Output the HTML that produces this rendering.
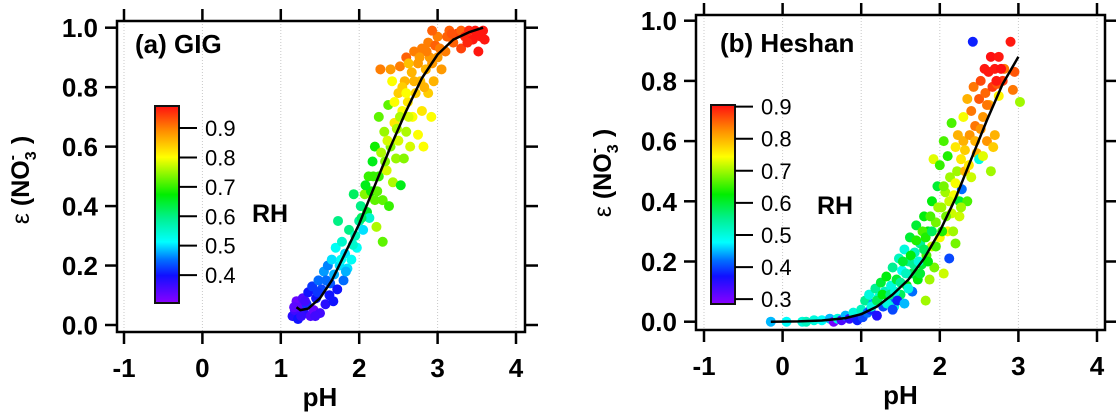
<!DOCTYPE html>
<html><head><meta charset="utf-8">
<style>
html,body{margin:0;padding:0;background:#fff;}
svg{display:block;font-family:"Liberation Sans",sans-serif;}
</style></head>
<body>
<svg id="chart" width="1116" height="414" viewBox="0 0 1116 414" xmlns="http://www.w3.org/2000/svg">
<defs>
<linearGradient id="rb" x1="0" y1="1" x2="0" y2="0">
<stop offset="0" stop-color="#8a00ff"/>
<stop offset="0.14" stop-color="#1010ff"/>
<stop offset="0.22" stop-color="#0070ff"/>
<stop offset="0.31" stop-color="#00ffff"/>
<stop offset="0.43" stop-color="#00f090"/>
<stop offset="0.55" stop-color="#00ee00"/>
<stop offset="0.74" stop-color="#ffff00"/>
<stop offset="0.87" stop-color="#ff9000"/>
<stop offset="1" stop-color="#ff1010"/>
</linearGradient>
</defs>
</svg>
<script>
const xTicks=[-1,0,1,2,3,4];
const yTicks=[0,0.2,0.4,0.6,0.8,1.0];
const yTickLabels=["0.0","0.2","0.4","0.6","0.8","1.0"];
const gigCbTicks=[0.4,0.5,0.6,0.7,0.8,0.9];
const hsCbTicks=[0.3,0.4,0.5,0.6,0.7,0.8,0.9];
const gigPts=[
[1.15,0.03,0.38],[1.18,0.05,0.36],[1.2,0.08,0.33],[1.22,0.02,0.4],[1.25,0.06,0.34],[1.28,0.09,0.35],[1.3,0.04,0.38],[1.33,0.07,0.42],[1.35,0.11,0.4],[1.38,0.03,0.35],[1.4,0.13,0.42],[1.42,0.05,0.33],[1.45,0.09,0.4],[1.48,0.15,0.45],[1.5,0.04,0.36],[1.52,0.12,0.43],[1.55,0.18,0.47],[1.57,0.07,0.38],[1.6,0.2,0.46],[1.62,0.1,0.4],[1.63,0.14,0.44],[1.65,0.22,0.5],[1.68,0.17,0.48],[1.7,0.26,0.52],[1.72,0.12,0.4],[1.73,0.35,0.6],[1.75,0.2,0.5],[1.78,0.28,0.55],[1.8,0.15,0.45],[1.82,0.24,0.5],[1.85,0.19,0.5],[1.87,0.32,0.6],[1.9,0.22,0.52],[1.93,0.44,0.62],[1.95,0.3,0.56],[1.97,0.26,0.52],[2.0,0.35,0.58],[2.02,0.4,0.6],[2.05,0.32,0.5],[2.07,0.44,0.74],[2.1,0.38,0.65],[2.12,0.5,0.7],[2.13,0.36,0.55],[2.15,0.45,0.68],[2.17,0.55,0.66],[2.2,0.42,0.72],[2.2,0.6,0.68],[2.22,0.33,0.76],[2.25,0.5,0.7],[2.25,0.7,0.72],[2.27,0.86,0.9],[2.28,0.58,0.76],[2.3,0.42,0.72],[2.3,0.28,0.72],[2.32,0.65,0.75],[2.35,0.52,0.78],[2.37,0.74,0.72],[2.38,0.4,0.7],[2.4,0.6,0.74],[2.42,0.82,0.8],[2.43,0.48,0.76],[2.45,0.68,0.82],[2.47,0.56,0.75],[2.5,0.78,0.84],[2.5,0.62,0.78],[2.52,0.87,0.9],[2.53,0.47,0.66],[2.55,0.72,0.8],[2.57,0.56,0.74],[2.58,0.82,0.86],[2.6,0.65,0.76],[2.6,0.9,0.92],[2.62,0.75,0.82],[2.65,0.6,0.78],[2.67,0.85,0.86],[2.68,0.7,0.8],[2.7,0.92,0.9],[2.72,0.78,0.84],[2.75,0.64,0.8],[2.75,0.88,0.88],[2.78,0.82,0.85],[2.8,0.93,0.9],[2.8,0.72,0.82],[2.82,0.6,0.8],[2.85,0.86,0.86],[2.88,0.78,0.84],[2.88,0.95,0.9],[2.9,0.9,0.88],[2.92,0.7,0.8],[2.95,0.82,0.86],[2.97,0.94,0.92],[3.0,0.9,0.88],[3.0,0.97,0.9],[3.05,0.86,0.88],[3.1,0.92,0.9],[3.12,0.97,0.92],[3.15,0.99,0.92],[3.2,0.95,0.92],[3.25,0.98,0.94],[3.3,0.93,0.94],[3.3,0.99,0.92],[3.35,0.97,0.96],[3.4,0.99,0.96],[3.45,0.96,0.97],[3.5,0.98,0.97],[3.52,0.92,0.97],[3.55,0.97,0.97],[3.58,0.99,0.97],[3.6,0.96,0.97],[2.63,0.88,0.85],[2.86,0.92,0.9],[2.93,0.99,0.92],[2.4,0.86,0.88],
[1.17,0.06,0.34],[1.26,0.03,0.37],[1.31,0.08,0.36],[1.44,0.03,0.36],[1.47,0.11,0.42],[1.58,0.15,0.45],[1.67,0.08,0.4],[1.77,0.22,0.52],[1.83,0.18,0.48],[1.92,0.27,0.55],[2.03,0.36,0.62],[2.08,0.47,0.66],[2.18,0.5,0.7],[2.23,0.45,0.72],[2.33,0.55,0.74],[2.36,0.62,0.78],[2.45,0.75,0.8],[2.48,0.66,0.76],[2.55,0.8,0.84],[2.63,0.7,0.78],[2.7,0.82,0.86],[2.77,0.9,0.88],[2.83,0.8,0.86],[2.93,0.88,0.88],[3.03,0.93,0.9],[3.18,0.98,0.93],[3.38,0.95,0.96],[3.48,0.99,0.97],[2.52,0.7,0.76],[2.6,0.78,0.8]
];
const hsPts=[
[-0.15,0,0.45],[0.05,0,0.48],[0.25,0,0.5],[0.3,0,0.52],[0.4,0.005,0.5],[0.5,0.005,0.48],[0.6,0.01,0.45],[0.65,0,0.3],[0.7,0.01,0.5],[0.75,0.005,0.33],[0.8,0.02,0.45],[0.85,0.01,0.35],[0.9,0.03,0.5],[0.95,0.005,0.38],[1.0,0.04,0.52],[1.02,0.015,0.4],[1.05,0.07,0.55],[1.08,0.03,0.42],[1.1,0.09,0.5],[1.12,0.04,0.38],[1.15,0.06,0.44],[1.18,0.11,0.55],[1.2,0.02,0.36],[1.22,0.08,0.5],[1.25,0.13,0.6],[1.28,0.05,0.4],[1.3,0.1,0.52],[1.32,0.15,0.62],[1.35,0.07,0.42],[1.38,0.12,0.5],[1.4,0.18,0.55],[1.42,0.05,0.5],[1.45,0.14,0.6],[1.48,0.21,0.52],[1.5,0.09,0.58],[1.52,0.17,0.48],[1.55,0.24,0.5],[1.58,0.12,0.62],[1.6,0.2,0.55],[1.62,0.28,0.6],[1.65,0.1,0.42],[1.65,0.16,0.58],[1.68,0.23,0.52],[1.7,0.32,0.6],[1.72,0.14,0.62],[1.75,0.26,0.55],[1.77,0.19,0.6],[1.8,0.35,0.62],[1.82,0.07,0.7],[1.83,0.22,0.66],[1.85,0.3,0.62],[1.87,0.14,0.7],[1.9,0.4,0.62],[1.9,0.25,0.72],[1.92,0.54,0.73],[1.93,0.18,0.68],[1.95,0.33,0.68],[1.97,0.45,0.6],[2.0,0.28,0.74],[2.0,0.52,0.65],[2.02,0.38,0.7],[2.05,0.16,0.72],[2.05,0.6,0.66],[2.07,0.43,0.7],[2.1,0.3,0.75],[2.1,0.55,0.64],[2.12,0.21,0.4],[2.13,0.48,0.7],[2.15,0.66,0.66],[2.15,0.36,0.72],[2.18,0.42,0.74],[2.2,0.26,0.68],[2.2,0.58,0.76],[2.22,0.5,0.7],[2.23,0.62,0.8],[2.25,0.35,0.72],[2.25,0.4,0.6],[2.27,0.54,0.76],[2.28,0.44,0.42],[2.3,0.68,0.74],[2.3,0.6,0.8],[2.32,0.5,0.8],[2.35,0.74,0.8],[2.35,0.4,0.66],[2.38,0.62,0.82],[2.4,0.7,0.84],[2.4,0.48,0.72],[2.42,0.93,0.38],[2.43,0.78,0.84],[2.45,0.65,0.84],[2.47,0.56,0.8],[2.5,0.74,0.86],[2.5,0.54,0.5],[2.52,0.8,0.87],[2.55,0.68,0.82],[2.57,0.84,0.9],[2.58,0.76,0.85],[2.6,0.6,0.82],[2.62,0.83,0.9],[2.63,0.72,0.8],[2.65,0.88,0.92],[2.65,0.5,0.7],[2.67,0.78,0.88],[2.7,0.84,0.9],[2.7,0.62,0.8],[2.73,0.79,0.86],[2.75,0.88,0.9],[2.75,0.75,0.75],[2.8,0.8,0.88],[2.82,0.84,0.84],[2.9,0.93,0.9],[2.93,0.77,0.84],[2.95,0.83,0.86],[3.02,0.73,0.7],[2.68,0.58,0.78],[2.55,0.55,0.73],
[1.13,0.05,0.5],[1.2,0.07,0.58],[1.27,0.09,0.62],[1.33,0.06,0.5],[1.37,0.09,0.56],[1.43,0.1,0.5],[1.46,0.07,0.38],[1.5,0.13,0.55],[1.53,0.2,0.6],[1.57,0.16,0.52],[1.6,0.11,0.5],[1.63,0.22,0.62],[1.67,0.19,0.55],[1.7,0.27,0.64],[1.73,0.2,0.5],[1.75,0.16,0.6],[1.78,0.3,0.66],[1.8,0.24,0.58],[1.82,0.28,0.64],[1.85,0.2,0.62],[1.88,0.35,0.66],[1.9,0.3,0.58],[1.95,0.25,0.66],[1.98,0.38,0.7],[2.03,0.3,0.64],[2.05,0.45,0.68],[2.08,0.35,0.68],[2.12,0.4,0.72],[2.17,0.3,0.7],[2.2,0.46,0.74],[2.27,0.38,0.7],[2.32,0.57,0.78],[2.37,0.52,0.76],[2.45,0.6,0.8],[2.52,0.64,0.82],[2.6,0.72,0.84],[2.72,0.8,0.9],[2.78,0.84,0.92],[1.4,0.04,0.4],[1.55,0.06,0.45]
];
const gigCurveX=[1.2,1.25,1.35,1.5,1.65,1.8,2.0,2.2,2.4,2.6,2.8,3.0,3.2,3.4,3.58];
const gigCurveY=[0.06,0.05,0.055,0.09,0.15,0.23,0.34,0.47,0.6,0.72,0.83,0.91,0.96,0.985,1.0];
const hsCurveX=[-0.15,0.2,0.5,0.8,1.0,1.2,1.4,1.6,1.8,2.0,2.2,2.4,2.6,2.8,3.0];
const hsCurveY=[0.0,0.001,0.004,0.012,0.025,0.05,0.09,0.14,0.21,0.3,0.41,0.54,0.67,0.79,0.88];

const stops=[[0,[138,0,255]],[0.14,[16,16,255]],[0.22,[0,112,255]],[0.31,[0,255,255]],[0.43,[0,240,144]],[0.55,[0,238,0]],[0.74,[255,255,0]],[0.87,[255,144,0]],[1,[255,16,16]]];
function cmap(f){f=Math.max(0,Math.min(1,f));for(let i=1;i<stops.length;i++){if(f<=stops[i][0]){const a=stops[i-1],b=stops[i];const t=(f-a[0])/(b[0]-a[0]);const c=a[1].map((v,k)=>Math.round(v+(b[1][k]-v)*t));return `rgb(${c[0]},${c[1]},${c[2]})`;}}return 'rgb(255,16,16)';}
const svg=document.getElementById('chart');
const NS='http://www.w3.org/2000/svg';
function mk(tag,attrs,parent,text){const e=document.createElementNS(NS,tag);for(const k in attrs)e.setAttribute(k,attrs[k]);if(text!==undefined)e.textContent=text;(parent||svg).appendChild(e);return e;}

function panel(P){
  const g=mk('g',{});
  
  
  const sx=v=>P.x0+(v-(-1))*(P.x4-P.x0)/5;
  const sy=v=>P.y0+(P.y1-P.y0)*v;
  xTicks.forEach(t=>{const l=mk('line',{x1:sx(t),x2:sx(t),y1:P.top,y2:P.bot,stroke:'#c8c8c8','stroke-width':1,'stroke-dasharray':'1,2'},g);
    
    });
  P.pts.forEach(p=>{const c=mk('circle',{cx:sx(p[0]),cy:sy(p[1]),r:5,fill:cmap((p[2]-P.cbMin)/(P.cbMax-P.cbMin))},g);
    
    });
  const d=P.cx.map((x,i)=>(i?'L':'M')+sx(x).toFixed(1)+','+sy(P.cy[i]).toFixed(1)).join(' ');
  const cv=mk('path',{d:d,fill:'none',stroke:'#000','stroke-width':2.5,'stroke-linejoin':'round'},g);
  
  
  const fr=mk('rect',{x:P.left,y:P.top,width:P.right-P.left,height:P.bot-P.top,fill:'none',stroke:'#000','stroke-width':2.5},g);
  
  
  xTicks.forEach(t=>{
    mk('line',{x1:sx(t),x2:sx(t),y1:P.top-12,y2:P.top,stroke:'#000','stroke-width':2.5},g);
    mk('line',{x1:sx(t),x2:sx(t),y1:P.bot,y2:P.bot+12,stroke:'#000','stroke-width':2.5},g);
    const tx=mk('text',{x:sx(t),y:P.bot+45,'text-anchor':'middle','font-size':26,'font-weight':'bold'},g,String(t));
    
    
  });
  yTicks.forEach((t,i)=>{
    mk('line',{x1:P.left-12,x2:P.left,y1:sy(t),y2:sy(t),stroke:'#000','stroke-width':2.5},g);
    mk('line',{x1:P.right,x2:P.right+13,y1:sy(t),y2:sy(t),stroke:'#000','stroke-width':2.5},g);
    const tx=mk('text',{x:P.left-19,y:sy(t)+9.5,'text-anchor':'end','font-size':26,'font-weight':'bold'},g,yTickLabels[i]);
    
    
  });
  const xt=mk('text',{x:(sx(1)+sx(2))/2,y:P.bot+74,'text-anchor':'middle','font-size':26,'font-weight':'bold'},g,'pH');
  
  
  const yt=mk('text',{transform:`translate(${P.ytX},${P.ytY}) rotate(-90)`,'text-anchor':'middle','font-size':25,'font-weight':'bold'},g);
  
  
  mk('tspan',{'font-weight':'normal'},yt,'ε ');
  mk('tspan',{},yt,'(NO');
  mk('tspan',{'font-size':16,dy:7},yt,'3');
  mk('tspan',{'font-size':16,dy:-19,dx:-9},yt,'-');
  mk('tspan',{dy:12,dx:4},yt,' )');
  const lb=mk('text',{x:P.labX,y:P.labY,'font-size':26,'font-weight':'bold'},g,P.label);
  
  
  const cb=mk('g',{},g);
  
  
  const cyv=v=>P.cbBot-(v-P.cbMin)/(P.cbMax-P.cbMin)*(P.cbBot-P.cbTop);
  mk('rect',{x:P.cbX,y:P.cbTop,width:24,height:P.cbBot-P.cbTop,fill:'url(#rb)',stroke:'#111','stroke-width':2},cb);
  P.cbTicks.forEach(t=>{
    mk('line',{x1:P.cbX+24,x2:P.cbX+42,y1:cyv(t),y2:cyv(t),stroke:'#000','stroke-width':2},cb);
    const tl=mk('text',{x:P.cbX+50,y:cyv(t)+8,'font-size':22},cb,t.toFixed(1));
    
    
  });
  const rh=mk('text',{x:P.rhX,y:P.rhY,'font-size':25,'font-weight':'bold'},cb,'RH');
  
  
}
panel({name:'panel-gig',x0:124,x4:516,y0:325,y1:27.7,left:117,right:525,top:21,bot:332,pts:gigPts,cx:gigCurveX,cy:gigCurveY,
  ytX:29,ytY:180,label:'(a) GIG',labX:135,labY:53,cbX:155,cbTop:106,cbBot:303,cbMin:0.305,cbMax:0.975,cbTicks:gigCbTicks,rhX:252,rhY:222});
panel({name:'panel-heshan',x0:704,x4:1097,y0:321.7,y1:20.7,left:696,right:1105,top:15,bot:330,pts:hsPts,cx:hsCurveX,cy:hsCurveY,
  ytX:611,ytY:173,label:'(b) Heshan',labX:720,labY:52,cbX:711,cbTop:105,cbBot:304,cbMin:0.285,cbMax:0.905,cbTicks:hsCbTicks,rhX:817,rhY:214});
</script>
</body></html>
